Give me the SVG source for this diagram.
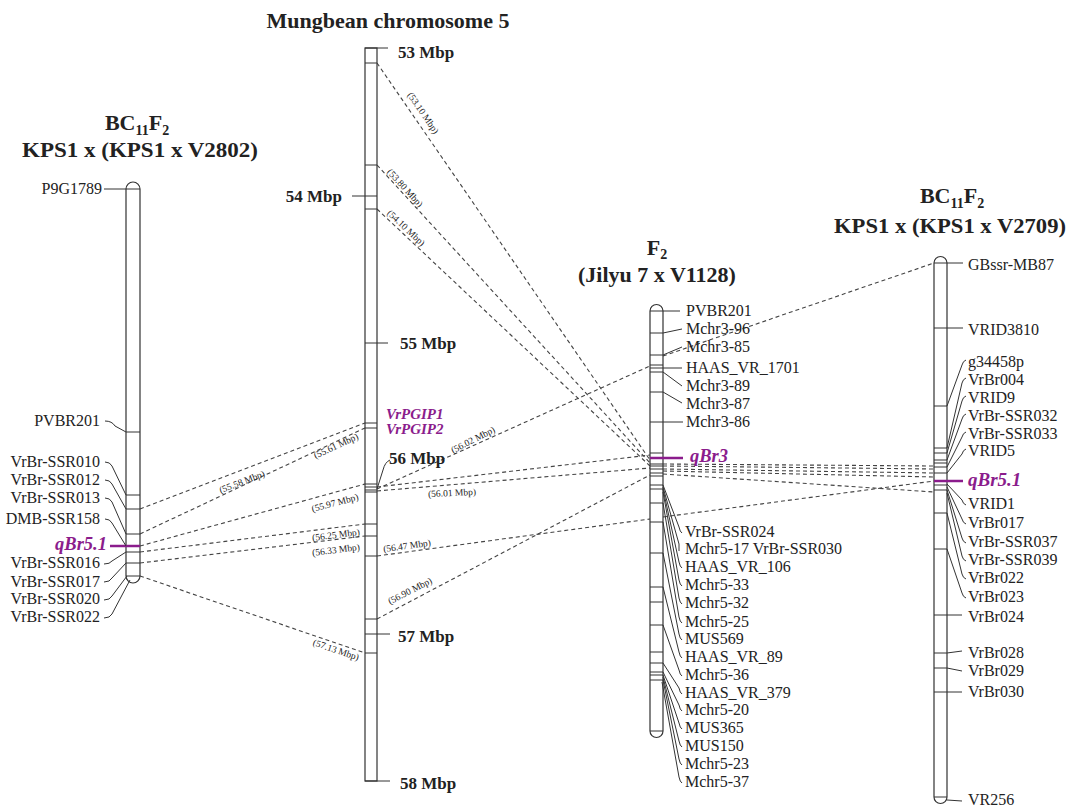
<svg xmlns="http://www.w3.org/2000/svg" width="1074" height="807" viewBox="0 0 1074 807">
<style>
text{font-family:"Liberation Serif","Times New Roman",serif;fill:#222}
.lb{font-size:16px}
.ti{font-size:22px;font-weight:bold}
.mb{font-size:17px;font-weight:bold}
.sm{font-size:9.5px;text-anchor:middle}
.q{fill:#8B1C8C;font-weight:bold;font-style:italic}
.chr{fill:#fff;stroke:#333;stroke-width:1.2}
.tk{stroke:#333;stroke-width:1;fill:none}
.ld{fill:none;stroke:#333;stroke-width:1}
.qt{stroke:#8B1C8C;stroke-width:2.5}
.cn line{stroke:#444;stroke-width:1.1;stroke-dasharray:4 3;fill:none}
</style>
<rect width="1074" height="807" fill="#fff"/>

<g id="connectors" class="cn">
  <line x1="140" y1="509" x2="365" y2="423"/>
  <line x1="140" y1="534" x2="365" y2="428"/>
  <line x1="140" y1="546" x2="365" y2="484"/>
  <line x1="140" y1="552" x2="365" y2="524"/>
  <line x1="140" y1="563" x2="365" y2="536"/>
  <line x1="140" y1="576" x2="365" y2="653"/>
  <line x1="377" y1="63" x2="650" y2="460"/>
  <line x1="377" y1="165" x2="650" y2="463"/>
  <line x1="377" y1="209" x2="650" y2="466"/>
  <line x1="377" y1="487" x2="650" y2="455"/>
  <line x1="377" y1="491" x2="650" y2="468"/>
  <line x1="377" y1="619" x2="650" y2="475"/>
  <line x1="377" y1="489" x2="650" y2="366"/>
  <line x1="663" y1="356" x2="934" y2="263"/>
  <line x1="663" y1="464" x2="934" y2="466"/>
  <line x1="663" y1="466" x2="934" y2="469"/>
  <line x1="663" y1="469" x2="934" y2="473"/>
  <line x1="663" y1="471" x2="934" y2="477"/>
  <line x1="663" y1="474" x2="934" y2="492"/>
  <line x1="377" y1="556" x2="650" y2="519"/>
  <line x1="663" y1="517" x2="934" y2="481"/>
</g>

<g id="connector-labels">
  <text class="sm" x="423" y="116" transform="rotate(55.5 423 113)">(53.10 Mbp)</text>
  <text class="sm" x="405" y="191" transform="rotate(47.5 405 188)">(53.80 Mbp)</text>
  <text class="sm" x="406" y="231" transform="rotate(43.3 406 228)">(54.10 Mbp)</text>
  <text class="sm" x="242" y="485" transform="rotate(-21 242 482)">(55.58 Mbp)</text>
  <text class="sm" x="336" y="449" transform="rotate(-25 336 446)">(55.61 Mbp)</text>
  <text class="sm" x="335" y="506" transform="rotate(-15 335 503)">(55.97 Mbp)</text>
  <text class="sm" x="336" y="538" transform="rotate(-7 336 535)">(56.25 Mbp)</text>
  <text class="sm" x="336" y="553" transform="rotate(-7 336 550)">(56.33 Mbp)</text>
  <text class="sm" x="336" y="653" transform="rotate(19 336 650)">(57.13 Mbp)</text>
  <text class="sm" x="473" y="443" transform="rotate(-27 473 440)">(56.02 Mbp)</text>
  <text class="sm" x="452" y="496" transform="rotate(-3 452 493)">(56.01 Mbp)</text>
  <text class="sm" x="407" y="549" transform="rotate(-8 407 546)">(56.47 Mbp)</text>
  <text class="sm" x="410" y="594" transform="rotate(-27 410 591)">(56.90 Mbp)</text>
</g>

<g id="left-map">
  <text class="ti" x="137" y="130" text-anchor="middle">BC<tspan font-size="14" dy="5">11</tspan><tspan dy="-5">F</tspan><tspan font-size="14" dy="5">2</tspan></text>
  <text class="ti" x="140" y="157" text-anchor="middle" textLength="236" lengthAdjust="spacingAndGlyphs">KPS1 x (KPS1 x V2802)</text>
  <path class="chr" d="M126,189 A7,7 0 0 1 140,189 V576 A7,7 0 0 1 126,576 Z"/>
  <path class="tk" d="M104,189 H140 M126,432 H140 M126,495 H140 M126,509 H140 M126,534 H140 M126,552 H140 M126,563 H140 M126,576 H140"/>
  <line class="qt" x1="110" y1="546" x2="140" y2="546"/>
  <g class="ld">
    <path d="M105,421 Q112,421 115,426 L126,432"/>
    <path d="M105,462 Q110,462 112,466 L126,495"/>
    <path d="M105,480 Q110,480 112,484 L126,509"/>
    <path d="M105,498 Q110,498 112,502 L126,534"/>
    <path d="M105,519 Q110,519 112,523 L126,546"/>
    <path d="M104,564 Q110,564 112,561 L126,552"/>
    <path d="M104,582 Q110,582 112,578 L126,563"/>
    <path d="M104,600 Q110,600 112,596 L127,576"/>
    <path d="M104,618 Q110,618 112,614 L130,580"/>
  </g>
  <g class="lb" text-anchor="end">
    <text x="102" y="194">P9G1789</text>
    <text x="100" y="426">PVBR201</text>
    <text x="100" y="467">VrBr-SSR010</text>
    <text x="100" y="485">VrBr-SSR012</text>
    <text x="100" y="503">VrBr-SSR013</text>
    <text x="100" y="524">DMB-SSR158</text>
    <text x="100" y="568">VrBr-SSR016</text>
    <text x="100" y="587">VrBr-SSR017</text>
    <text x="100" y="604">VrBr-SSR020</text>
    <text x="100" y="622">VrBr-SSR022</text>
  </g>
  <text class="q" x="107" y="550" font-size="18.5" text-anchor="end">qBr5.1</text>
</g>

<g id="mid-map">
  <text class="ti" x="388" y="28" text-anchor="middle" font-size="20">Mungbean chromosome 5</text>
  <rect class="chr" x="365" y="48" width="12" height="733"/>
  <path class="tk" d="M365,48 H388 M352,196 H377 M365,343 H388 M365,634 H390 M365,781 H390"/>
  <path class="tk" d="M365,63 H377 M365,165 H377 M365,209 H377 M365,423 H377 M365,428 H377 M365,484 H377 M365,487 H377 M365,490 H377 M365,492 H377 M365,524 H377 M365,536 H377 M365,556 H377 M365,619 H377 M365,653 H377"/>
  <path class="ld" d="M377,489 L383,470 Q385,462 390,460"/>
  <text class="mb" x="398" y="58">53 Mbp</text>
  <text class="mb" x="342" y="202" text-anchor="end">54 Mbp</text>
  <text class="mb" x="400" y="349">55 Mbp</text>
  <text class="mb" x="389" y="464">56 Mbp</text>
  <text class="mb" x="398" y="642">57 Mbp</text>
  <text class="mb" x="400" y="789">58 Mbp</text>
  <text class="q" x="386" y="419" font-size="15">VrPGIP1</text>
  <text class="q" x="386" y="434" font-size="15">VrPGIP2</text>
</g>

<g id="f2-map">
  <text class="ti" x="657" y="255" text-anchor="middle">F<tspan font-size="14" dy="4">2</tspan></text>
  <text class="ti" x="657" y="282" text-anchor="middle">(Jilyu 7 x V1128)</text>
  <path class="chr" d="M650,311 A6.5,6.5 0 0 1 663,311 V731 A6.5,6.5 0 0 1 650,731 Z"/>
  <path class="tk" d="M650,311 H680 M650,333 H663 M650,355 H663 M650,365 H663 M650,368 H663 M650,372 H663 M650,392 H663 M650,422 H683 M650,453 H663 M650,464 H663 M650,466 H663 M650,469 H663 M650,473 H663 M650,476 H663"/>
  <path class="tk" d="M650,485 H663 M650,489 H663 M650,503 H663 M650,522 H663 M650,553 H663 M650,587 H663 M650,602 H663 M650,625 H663 M650,652 H663 M650,663 H663 M650,672 H663 M650,675 H663 M650,680 H663 M650,731 H663"/>
  <line class="qt" x1="650" y1="458" x2="683" y2="458"/>
  <g class="ld">
    <path d="M663,333 L682,329"/>
    <path d="M663,355 L682,347"/>
    <path d="M663,368 L682,368"/>
    <path d="M663,372 L682,386"/>
    <path d="M663,392 L682,403"/>
    <path d="M663,485 L679,527 Q680,532 682,533"/>
    <path d="M663,487 L679,544 L679,551"/>
    <path d="M663,489 L679,562 Q680,567 682,568"/>
    <path d="M663,492 L679,580 Q680,585 682,586"/>
    <path d="M663,503 L679,598 Q680,603 682,604"/>
    <path d="M663,522 L679,617 Q680,622 682,623"/>
    <path d="M663,553 L679,634 Q680,639 682,640"/>
    <path d="M663,587 L679,652 Q680,657 682,658"/>
    <path d="M663,625 L679,670 Q680,675 682,676"/>
    <path d="M663,663 L679,688 Q680,693 682,694"/>
    <path d="M663,672 L679,705 Q680,710 682,711"/>
    <path d="M663,675 L679,723 Q680,728 682,729"/>
    <path d="M663,677 L679,741 Q680,746 682,747"/>
    <path d="M663,680 L679,759 Q680,764 682,765"/>
    <path d="M662,682 L679,777 Q680,782 682,783"/>
  </g>
  <g class="lb">
    <text x="686" y="316">PVBR201</text>
    <text x="686" y="334">Mchr3-96</text>
    <text x="686" y="352">Mchr3-85</text>
    <text x="686" y="373">HAAS_VR_1701</text>
    <text x="686" y="391">Mchr3-89</text>
    <text x="686" y="409">Mchr3-87</text>
    <text x="686" y="427">Mchr3-86</text>
    <text x="685" y="537">VrBr-SSR024</text>
    <text x="685" y="554">Mchr5-17  VrBr-SSR030</text>
    <text x="685" y="572">HAAS_VR_106</text>
    <text x="685" y="590">Mchr5-33</text>
    <text x="685" y="608">Mchr5-32</text>
    <text x="685" y="627">Mchr5-25</text>
    <text x="685" y="644">MUS569</text>
    <text x="685" y="662">HAAS_VR_89</text>
    <text x="685" y="680">Mchr5-36</text>
    <text x="685" y="698">HAAS_VR_379</text>
    <text x="685" y="715">Mchr5-20</text>
    <text x="685" y="733">MUS365</text>
    <text x="685" y="751">MUS150</text>
    <text x="685" y="769">Mchr5-23</text>
    <text x="685" y="787">Mchr5-37</text>
  </g>
  <text class="q" x="690" y="462" font-size="18.5">qBr3</text>
</g>

<g id="right-map">
  <text class="ti" x="952" y="203" text-anchor="middle">BC<tspan font-size="14" dy="5">11</tspan><tspan dy="-5">F</tspan><tspan font-size="14" dy="5">2</tspan></text>
  <text class="ti" x="950" y="233" text-anchor="middle" textLength="232" lengthAdjust="spacingAndGlyphs">KPS1 x (KPS1 x V2709)</text>
  <path class="chr" d="M934,263 A6.5,6.5 0 0 1 947,263 V797 A6.5,6.5 0 0 1 934,797 Z"/>
  <path class="tk" d="M934,263 H963 M934,328 H963 M934,406 H947 M934,448 H947 M934,453 H947 M934,460 H947 M934,463 H947 M934,467 H947 M934,473 H947 M934,485 H947 M934,490 H947 M934,513 H947 M934,549 H947 M934,615 H962 M934,653 H947 M934,668 H947 M934,692 H962 M934,797 H947"/>
  <line class="qt" x1="934" y1="481" x2="963" y2="481"/>
  <g class="ld">
    <path d="M947,406 L962,365 Q963,361 966,360"/>
    <path d="M947,448 L962,383 Q963,379 966,378"/>
    <path d="M947,453 L962,401 Q963,397 966,396"/>
    <path d="M947,460 L962,419 Q963,415 966,414"/>
    <path d="M947,467 L962,437 Q963,433 966,432"/>
    <path d="M947,473 L962,454 Q963,450 966,449"/>
    <path d="M947,484 L962,500 Q963,504 966,505"/>
    <path d="M947,487 L962,519 Q963,523 966,524"/>
    <path d="M947,490 L962,538 Q963,542 966,543"/>
    <path d="M947,493 L962,556 Q963,560 966,561"/>
    <path d="M947,513 L962,574 Q963,578 966,579"/>
    <path d="M947,549 L962,593 Q963,597 966,598"/>
    <path d="M947,653 L962,651"/>
    <path d="M947,668 L962,671"/>
    <path d="M947,800 L962,801"/>
  </g>
  <g class="lb">
    <text x="968" y="270">GBssr-MB87</text>
    <text x="968" y="335">VRID3810</text>
    <text x="968" y="367">g34458p</text>
    <text x="968" y="385">VrBr004</text>
    <text x="968" y="403">VRID9</text>
    <text x="968" y="421">VrBr-SSR032</text>
    <text x="968" y="439">VrBr-SSR033</text>
    <text x="968" y="456">VRID5</text>
    <text x="968" y="509">VRID1</text>
    <text x="968" y="528">VrBr017</text>
    <text x="968" y="547">VrBr-SSR037</text>
    <text x="968" y="565">VrBr-SSR039</text>
    <text x="968" y="583">VrBr022</text>
    <text x="968" y="602">VrBr023</text>
    <text x="968" y="622">VrBr024</text>
    <text x="968" y="658">VrBr028</text>
    <text x="968" y="676">VrBr029</text>
    <text x="968" y="697">VrBr030</text>
    <text x="968" y="805">VR256</text>
  </g>
  <text class="q" x="968" y="486" font-size="19">qBr5.1</text>
</g>
</svg>
